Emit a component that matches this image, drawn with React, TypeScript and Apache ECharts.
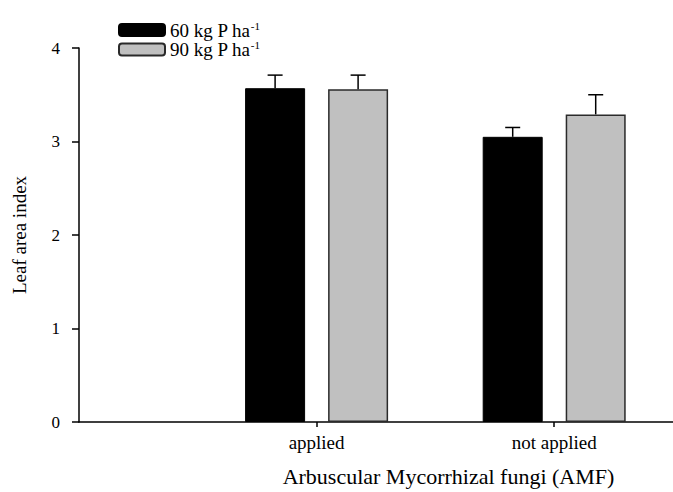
import React, { useEffect, useRef } from "react";
import * as echarts from "echarts";

const CATEGORY_LABELS = ["", "applied", "not applied"];
const CATEGORY_POS = [1, 2];
const SERIES_NAMES = ["60 kg P ha-1", "90 kg P ha-1"];
const MEANS_60 = [3.57, 3.05];
const ERR_60 = [0.14, 0.10];
const MEANS_90 = [3.56, 3.29];
const ERR_90 = [0.15, 0.21];
const Y_TICKS = [0, 1, 2, 3, 4];

const FONT = "'Liberation Serif', 'Times New Roman', serif";
const BAR_W = 60;
const BAR_GAP_PX = 23;

export default function App() {
  const ref = useRef<HTMLDivElement>(null);
  useEffect(() => {
    if (!ref.current) return;
    const chart = echarts.init(ref.current, null, { renderer: "svg" });
    const offset = (BAR_W + BAR_GAP_PX) / 2;
    const errSeries = (means: number[], errs: number[], dir: number, name: string) => ({
      type: "custom",
      name,
      z: 3,
      silent: true,
      data: CATEGORY_POS.map((x, i) => [x, means[i], errs[i]]),
      encode: { x: 0, y: 1 },
      renderItem: (params: any, api: any) => {
        const x = api.value(0);
        const m = api.value(1);
        const e = api.value(2);
        const p0 = api.coord([x, m]);
        const p1 = api.coord([x, m + e]);
        const cx = p0[0] + dir * offset;
        const stroke = { stroke: "#000", lineWidth: 1.5 };
        return {
          type: "group",
          children: [
            { type: "line", shape: { x1: cx, y1: p0[1], x2: cx, y2: p1[1] }, style: stroke },
            { type: "line", shape: { x1: cx - 7.5, y1: p1[1], x2: cx + 7.5, y2: p1[1] }, style: stroke },
          ],
        };
      },
    });
    chart.setOption({
      animation: false,
      backgroundColor: "#fff",
      textStyle: { fontFamily: FONT, color: "#000" },
      grid: { left: 79, right: -3, top: 48, bottom: 64, containLabel: false },
      legend: {
        orient: "vertical",
        left: 113,
        top: 15,
        itemWidth: 46,
        itemHeight: 12,
        itemGap: 0,
        data: SERIES_NAMES,
        formatter: (name: string) => {
          const base = name.replace(/-1$/, "");
          return `{a|${base}}{s|-1}`;
        },
        textStyle: {
          fontFamily: FONT,
          color: "#000",
          rich: {
            a: { fontSize: 19, fontFamily: FONT, color: "#000", lineHeight: 20 },
            s: { fontSize: 11, fontFamily: FONT, color: "#000", verticalAlign: "top", lineHeight: 12 },
          },
        },
      },
      xAxis: {
        type: "value",
        min: 0,
        max: 2.5,
        interval: 1,
        splitLine: { show: false },
        axisLine: { show: true, onZero: false, lineStyle: { color: "#000", width: 1.5 } },
        axisTick: { show: true, customValues: CATEGORY_POS, length: 5, lineStyle: { color: "#000", width: 1.5 } },
        axisLabel: {
          customValues: CATEGORY_POS,
          formatter: (v: number) => CATEGORY_LABELS[Math.round(v)] ?? "",
          margin: 11,
          fontSize: 19,
          fontFamily: FONT,
          color: "#000",
        },
        name: "Arbuscular Mycorrhizal fungi (AMF)",
        nameLocation: "middle",
        nameGap: 43,
        nameTextStyle: { fontSize: 22, fontFamily: FONT, color: "#000", padding: [0, 0, 0, 145] },
      },
      yAxis: {
        type: "value",
        min: Y_TICKS[0],
        max: Y_TICKS[Y_TICKS.length - 1],
        interval: 1,
        splitLine: { show: false },
        axisLine: { show: true, lineStyle: { color: "#000", width: 1.5 } },
        axisTick: { show: true, length: 7, lineStyle: { color: "#000", width: 1.5 } },
        axisLabel: { margin: 19, fontSize: 17, fontFamily: FONT, color: "#000" },
        name: "Leaf area index",
        nameLocation: "middle",
        nameGap: 50,
        nameTextStyle: { fontSize: 19, fontFamily: FONT, color: "#000" },
      },
      series: [
        {
          type: "bar",
          name: SERIES_NAMES[0],
          data: CATEGORY_POS.map((x, i) => [x, MEANS_60[i]]),
          barWidth: BAR_W,
          barGap: `${(BAR_GAP_PX / BAR_W) * 100}%`,
          itemStyle: { color: "#000", borderColor: "#000", borderWidth: 1 },
        },
        {
          type: "bar",
          name: SERIES_NAMES[1],
          data: CATEGORY_POS.map((x, i) => [x, MEANS_90[i]]),
          barWidth: BAR_W,
          barGap: `${(BAR_GAP_PX / BAR_W) * 100}%`,
          itemStyle: { color: "#c0c0c0", borderColor: "#2a2a2a", borderWidth: 1.5 },
        },
        errSeries(MEANS_60, ERR_60, -1, "err60"),
        errSeries(MEANS_90, ERR_90, 1, "err90"),
      ],
    });
    return () => chart.dispose();
  }, []);
  return (
    <div
      ref={ref}
      style={{ position: "fixed", left: 0, top: 0, width: 673, height: 492, background: "#fff" }}
    />
  );
}
